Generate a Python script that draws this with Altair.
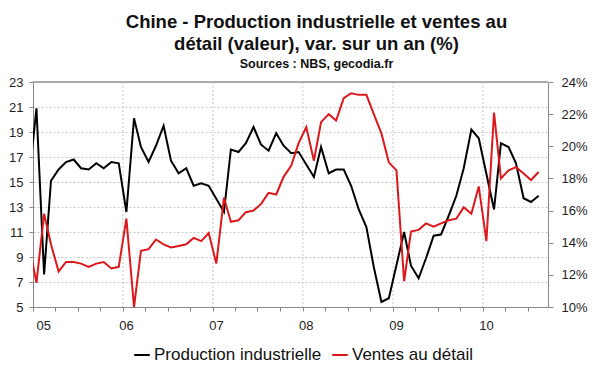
import altair as alt
import pandas as pd

# Monthly observations (mid-month), Dec 2004 -> Aug 2010
months = [d.strftime("%Y-%m-15") for d in pd.date_range("2004-12-01", periods=69, freq="MS")]

production = [15.0,
    20.9, 7.6, 15.1, 16.0, 16.6, 16.8, 16.1, 16.0, 16.5, 16.1, 16.6, 16.5,
    12.6, 20.1, 17.8, 16.6, 17.9, 19.5, 16.7, 15.7, 16.1, 14.7, 14.9, 14.7,
    None, 12.6, 17.6, 17.4, 18.1, 19.4, 18.0, 17.5, 18.9, 17.9, 17.3, 17.4,
    None, 15.4, 17.8, 15.7, 16.0, 16.0, 14.7, 12.8, 11.4, 8.2, 5.4, 5.7,
    None, 11.0, 8.3, 7.3, 8.9, 10.7, 10.8, 12.3, 13.9, 16.1, 19.2, 18.5,
    None, 12.8, 18.1, 17.8, 16.5, 13.7, 13.4, 13.9]

ventes = [14.0,
    11.5, 15.8, 13.9, 12.2, 12.8, 12.8, 12.7, 12.5, 12.7, 12.8, 12.4, 12.5,
    15.5, 10.0, 13.5, 13.6, 14.2, 13.9, 13.7, 13.8, 13.9, 14.3, 14.1, 14.6,
    12.7, 16.8, 15.3, 15.4, 15.9, 16.0, 16.4, 17.1, 17.0, 18.1, 18.8, 20.2,
    21.2, 19.1, 21.5, 22.0, 21.6, 23.0, 23.3, 23.2, 23.2, 22.0, 20.8, 19.0,
    18.5, 11.6, 14.7, 14.8, 15.2, 15.0, 15.2, 15.4, 15.5, 16.2, 15.8, 17.5,
    14.1, 22.1, 18.0, 18.5, 18.7, 18.3, 17.9, 18.4]

series_names = ["Production industrielle", "Ventes au détail"]
series_colors = ["#000000", "#dc181c"]

year_lines = ["2006-01-01", "2007-01-01", "2008-01-01", "2009-01-01", "2010-01-01"]
quarter_ticks = [alt.DateTime(year=y, month=m, date=1) for y in range(2005, 2011) for m in (1, 4, 7, 10)
                 if not (y == 2010 and m == 10)]
left_ticks = list(range(5, 24, 2))
right_ticks = list(range(10, 25, 2))

df_ip = pd.DataFrame({"date": months, "v": production, "s": series_names[0]})
df_rs = pd.DataFrame({"date": months, "v": ventes, "s": series_names[1]})
df_years = pd.DataFrame({"date": year_lines})

FONT = "Liberation Sans"
xscale = alt.Scale(domain=["2005-01-01", "2010-09-22"])
color = alt.Color("s:N", scale=alt.Scale(domain=series_names, range=series_colors),
                  legend=alt.Legend(title=None, orient="none", direction="horizontal",
                                    legendX=100, legendY=264, labelLimit=400,
                                    symbolType="stroke", symbolStrokeWidth=2, symbolSize=240,
                                    labelFontSize=17, labelFont=FONT, labelColor="#111",
                                    columnPadding=6, labelOffset=3))

xaxis = alt.Axis(title=None, values=quarter_ticks, grid=False, tickSize=4, tickColor="#888",
                 domainColor="#888", labelPadding=8, labelOffset=3,
                 labelExpr="month(datum.value) == 0 ? timeFormat(datum.value, '%y') : ''")

rules = alt.Chart(df_years).mark_rule(strokeDash=[2, 2], color="#c8c8c8", strokeWidth=1).encode(
    x=alt.X("date:T", scale=xscale, axis=xaxis))

top_border = alt.Chart(df_years).mark_rule(color="#a8a8a8", strokeWidth=1).encode(
    y=alt.value(0), x=alt.value(0), x2=alt.value(515))

left = alt.Chart(df_ip).transform_filter("isValid(datum.v)").mark_line(strokeWidth=2, clip=True).encode(
    x=alt.X("date:T", scale=xscale, axis=xaxis),
    y=alt.Y("v:Q", scale=alt.Scale(domain=[5, 23], nice=False, zero=False),
            axis=alt.Axis(title=None, values=left_ticks, grid=True, gridDash=[2, 2], gridColor="#c8c8c8",
                          tickSize=4, tickColor="#888", domainColor="#888", labelPadding=6)),
    color=color)

right = alt.Chart(df_rs).mark_line(strokeWidth=2, clip=True).encode(
    x=alt.X("date:T", scale=xscale, axis=xaxis),
    y=alt.Y("v:Q", scale=alt.Scale(domain=[10, 24], nice=False, zero=False),
            axis=alt.Axis(title=None, orient="right", values=right_ticks, grid=False,
                          tickSize=5, tickColor="#888", domainColor="#888", labelPadding=8,
                          labelExpr="datum.value + '%'")),
    color=color)

chart = alt.layer(rules, top_border, left, right).resolve_scale(y="independent").properties(
    width=515, height=225,
    autosize=alt.AutoSizeParams(type="none"),
    padding={"left": 25, "top": 74, "right": 44, "bottom": 62},
    title=alt.TitleParams(
        text=["Chine - Production industrielle et ventes au", "détail (valeur), var. sur un an (%)"],
        subtitle="Sources : NBS, gecodia.fr",
        font=FONT, fontSize=18.5, fontWeight="bold", color="#111", lineHeight=22,
        subtitleFont=FONT, subtitleFontSize=12.5, subtitleFontWeight="bold", subtitleColor="#111",
        subtitlePadding=4, anchor="middle", offset=6, dx=26),
).configure_view(stroke=None).configure_axis(
    labelFont=FONT, labelFontSize=13, labelColor="#222")

chart.save("out.html", embed_options={"renderer": "svg", "actions": False})
